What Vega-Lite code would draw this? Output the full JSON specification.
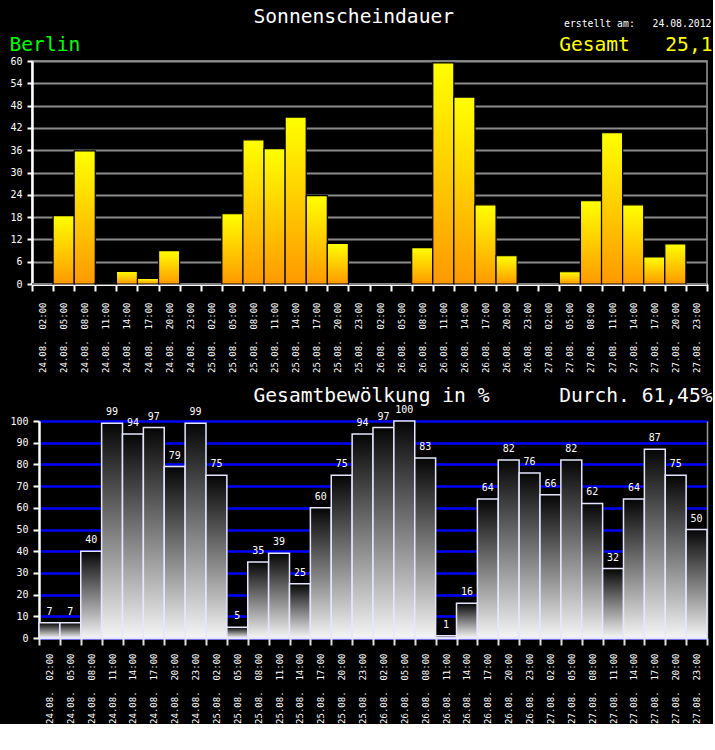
{
  "$schema": "https://vega.github.io/schema/vega-lite/v6.json",
  "background": "black",
  "padding": {"left": 8, "top": 5, "right": 0, "bottom": 0},
  "spacing": 11,
  "config": {
    "view": {"stroke": "#9a9a9a", "strokeWidth": 1.5},
    "font": "DejaVu Sans Mono",
    "axis": {"labelFont": "DejaVu Sans Mono", "titleFont": "DejaVu Sans Mono", "labelColor": "white", "titleColor": "white", "titleFontWeight": "normal"}
  },
  "data": {"values": [
    {"t": "24.08.\u00a0\u00a002:00", "sonne": 0, "wolken": 7},
    {"t": "24.08.\u00a0\u00a005:00", "sonne": 18.4, "wolken": 7},
    {"t": "24.08.\u00a0\u00a008:00", "sonne": 35.8, "wolken": 40},
    {"t": "24.08.\u00a0\u00a011:00", "sonne": 0.3, "wolken": 99},
    {"t": "24.08.\u00a0\u00a014:00", "sonne": 3.4, "wolken": 94},
    {"t": "24.08.\u00a0\u00a017:00", "sonne": 1.5, "wolken": 97},
    {"t": "24.08.\u00a0\u00a020:00", "sonne": 9.0, "wolken": 79},
    {"t": "24.08.\u00a0\u00a023:00", "sonne": 0, "wolken": 99},
    {"t": "25.08.\u00a0\u00a002:00", "sonne": 0, "wolken": 75},
    {"t": "25.08.\u00a0\u00a005:00", "sonne": 18.9, "wolken": 5},
    {"t": "25.08.\u00a0\u00a008:00", "sonne": 38.8, "wolken": 35},
    {"t": "25.08.\u00a0\u00a011:00", "sonne": 36.4, "wolken": 39},
    {"t": "25.08.\u00a0\u00a014:00", "sonne": 44.9, "wolken": 25},
    {"t": "25.08.\u00a0\u00a017:00", "sonne": 23.8, "wolken": 60},
    {"t": "25.08.\u00a0\u00a020:00", "sonne": 10.9, "wolken": 75},
    {"t": "25.08.\u00a0\u00a023:00", "sonne": 0, "wolken": 94},
    {"t": "26.08.\u00a0\u00a002:00", "sonne": 0, "wolken": 97},
    {"t": "26.08.\u00a0\u00a005:00", "sonne": 0, "wolken": 100},
    {"t": "26.08.\u00a0\u00a008:00", "sonne": 9.8, "wolken": 83},
    {"t": "26.08.\u00a0\u00a011:00", "sonne": 59.5, "wolken": 1},
    {"t": "26.08.\u00a0\u00a014:00", "sonne": 50.3, "wolken": 16},
    {"t": "26.08.\u00a0\u00a017:00", "sonne": 21.3, "wolken": 64},
    {"t": "26.08.\u00a0\u00a020:00", "sonne": 7.6, "wolken": 82},
    {"t": "26.08.\u00a0\u00a023:00", "sonne": 0, "wolken": 76},
    {"t": "27.08.\u00a0\u00a002:00", "sonne": 0, "wolken": 66},
    {"t": "27.08.\u00a0\u00a005:00", "sonne": 3.3, "wolken": 82},
    {"t": "27.08.\u00a0\u00a008:00", "sonne": 22.4, "wolken": 62},
    {"t": "27.08.\u00a0\u00a011:00", "sonne": 40.7, "wolken": 32},
    {"t": "27.08.\u00a0\u00a014:00", "sonne": 21.3, "wolken": 64},
    {"t": "27.08.\u00a0\u00a017:00", "sonne": 7.3, "wolken": 87},
    {"t": "27.08.\u00a0\u00a020:00", "sonne": 10.8, "wolken": 75},
    {"t": "27.08.\u00a0\u00a023:00", "sonne": 0, "wolken": 50}
  ]},
  "vconcat": [
    {
      "width": 675,
      "height": 223,
      "layer": [
        {
          "mark": {"type": "bar", "stroke": "black", "strokeWidth": 1.2,
            "fill": {"gradient": "linear", "x1": 0, "y1": 0, "x2": 0, "y2": 1,
              "stops": [{"offset": 0, "color": "#ffff00"}, {"offset": 1, "color": "#ff9900"}]}},
          "encoding": {
            "x": {"field": "t", "type": "ordinal", "sort": null,
              "scale": {"paddingInner": 0, "paddingOuter": 0},
              "axis": {"orient": "bottom", "labelAngle": 270, "labelFontSize": 9, "labelPadding": 11,
                "tickBand": "extent", "tickSize": 7, "tickColor": "white", "tickWidth": 2,
                "domainColor": "white", "domainWidth": 3, "grid": false,
                "title": "Sonnenscheindauer", "titleX": 221, "titleY": -262, "titleAlign": "left",
                "titleBaseline": "alphabetic", "titleAngle": 0, "titleFontSize": 19.6}},
            "y": {"field": "sonne", "type": "quantitative",
              "scale": {"domain": [0, 60], "nice": false},
              "axis": {"values": [0, 6, 12, 18, 24, 30, 36, 42, 48, 54, 60],
                "grid": true, "gridColor": "#8c8c8c", "gridWidth": 2,
                "domainColor": "white", "domainWidth": 2.5, "tickColor": "white", "tickWidth": 2,
                "tickSize": 5, "labelPadding": 5, "labelFontSize": 10,
                "title": "Berlin", "titleColor": "#00ff00", "titleAngle": 0, "titleAlign": "left",
                "titleBaseline": "alphabetic", "titleX": -23, "titleY": -11, "titleFontSize": 19.6}}
          }
        },
        {
          "mark": {"type": "bar", "opacity": 0},
          "encoding": {
            "x": {"field": "t", "type": "ordinal", "sort": null,
              "axis": {"orient": "top", "labels": false, "ticks": false, "domain": false, "grid": false,
                "title": "erstellt am:\u00a0\u00a0\u00a024.08.2012", "titleX": 679, "titleY": -35, "titleAlign": "right",
                "titleBaseline": "alphabetic", "titleAngle": 0, "titleFontSize": 9.8}},
            "y": {"field": "sonne", "type": "quantitative",
              "axis": {"orient": "right", "labels": false, "ticks": false, "domain": false, "grid": false,
                "title": "Gesamt\u00a0\u00a0\u00a025,1", "titleColor": "#ffff00", "titleX": 5, "titleY": -11,
                "titleAlign": "right", "titleBaseline": "alphabetic", "titleAngle": 0, "titleFontSize": 19.6}}
          }
        }
      ],
      "resolve": {"axis": {"x": "independent", "y": "independent"}}
    },
    {
      "width": 675,
      "height": 217,
      "view": {"stroke": null},
      "encoding": {
        "x": {"field": "t", "type": "ordinal", "sort": null,
          "scale": {"paddingInner": 0, "paddingOuter": 0, "range": [7, 675]},
          "axis": {"orient": "bottom", "labelAngle": 270, "labelFontSize": 9, "labelPadding": 8,
            "tickBand": "extent", "tickSize": 7, "tickColor": "#dddddd", "tickWidth": 2,
            "domainColor": "#e0e0ff", "domainWidth": 2, "grid": false, "title": null}}
      },
      "layer": [
        {
          "mark": {"type": "bar", "stroke": "#e6e6ff", "strokeWidth": 1.5,
            "fill": {"gradient": "linear", "x1": 0, "y1": 0, "x2": 0, "y2": 1,
              "stops": [{"offset": 0, "color": "#050505"}, {"offset": 1, "color": "#f5f5f5"}]}},
          "encoding": {
            "y": {"field": "wolken", "type": "quantitative",
              "scale": {"domain": [0, 100], "nice": false},
              "axis": {"values": [0, 10, 20, 30, 40, 50, 60, 70, 80, 90, 100], "offset": -7,
                "grid": true, "gridColor": "#0000ff", "gridWidth": 2.5,
                "domainColor": "white", "domainWidth": 2.5, "tickColor": "white", "tickWidth": 2,
                "tickSize": 6, "labelPadding": 5, "labelFontSize": 10,
                "title": "Gesamtbewölkung in %", "titleAngle": 0, "titleAlign": "left",
                "titleBaseline": "alphabetic", "titleX": 214, "titleY": -19.5, "titleFontSize": 19.6}}
          }
        },
        {
          "mark": {"type": "text", "color": "white", "fontSize": 10, "baseline": "alphabetic", "dy": -8, "font": "DejaVu Sans Mono"},
          "encoding": {
            "text": {"field": "wolken", "type": "quantitative"},
            "y": {"field": "wolken", "type": "quantitative",
              "axis": {"orient": "right", "labels": false, "ticks": false, "domain": true,
                "domainColor": "#9a9a9a", "domainWidth": 1.5, "grid": false,
                "title": "Durch. 61,45%", "titleX": 5, "titleY": -19.5,
                "titleAlign": "right", "titleBaseline": "alphabetic", "titleAngle": 0, "titleFontSize": 19.6}}
          }
        }
      ],
      "resolve": {"axis": {"y": "independent"}}
    }
  ]
}
